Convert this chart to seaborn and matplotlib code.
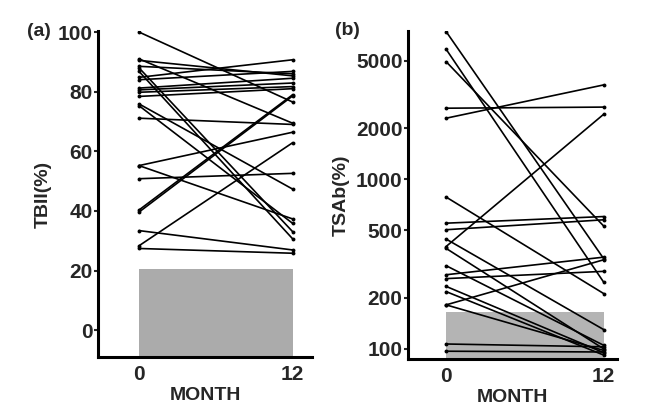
import numpy as np
import pandas as pd
import matplotlib
matplotlib.use("Agg")
import matplotlib.pyplot as plt
import seaborn as sns
from matplotlib.ticker import FixedLocator, NullLocator, ScalarFormatter

# months of follow-up
months = [0, 12]

# TBII (%) per patient, at month 0 and month 12
tbii_start = [100, 91, 90.5, 88.5, 88, 86.8, 84.8, 84, 81.2, 80.6, 79.8, 78.4,
              75.9, 75.3, 71.1, 55.2, 55.2, 50.8, 40.3, 39.6, 33.4, 28.3, 27.4]
tbii_end = [76.5, 69.4, 85.3, 86, 33, 30.6, 90.7, 86.8, 84.5, 82.9, 81.7, 81,
            47.3, 35.8, 69, 66.4, 37.3, 52.6, 79, 78.6, 26.9, 62.9, 25.8]

# TSAb (%) per patient, at month 0 and month 12
tsab_start = [7450, 5860, 4950, 2630, 2296, 787, 552, 505, 445, 402, 392, 310,
              274, 260, 234, 218, 182, 182, 107, 97]
tsab_end = [340, 247, 530, 2670, 3610, 212, 604, 578, 130, 2426, 100, 105,
            348, 287, 95, 92, 336, 98, 103, 96]

# upper limit of the normal range
tbii_normal = 20.5
tsab_normal = 165

tsab_ticks = [100, 200, 500, 1000, 2000, 5000]


def to_long(start, end):
    rows = []
    for i, (a, b) in enumerate(zip(start, end)):
        rows.append({"subject": i, "month": months[0], "value": a})
        rows.append({"subject": i, "month": months[1], "value": b})
    return pd.DataFrame(rows)


sns.set_style("white")
plt.rcParams["font.family"] = ["Liberation Sans", "DejaVu Sans"]
plt.rcParams["font.weight"] = "bold"

fig = plt.figure(figsize=(6.51, 4.13), dpi=100)
ax1 = fig.add_axes([0.1505, 0.1356, 0.3287, 0.789])
ax2 = fig.add_axes([0.6267, 0.1308, 0.321, 0.795])

line_kw = dict(x="month", y="value", units="subject", estimator=None,
               color="black", linewidth=1.2, marker="o", markersize=2.8,
               markeredgewidth=0, legend=False)

# (a) TBII
ylow_a = -9
ax1.fill_between(months, ylow_a, tbii_normal, color="#ababab", zorder=0, linewidth=0)
sns.lineplot(data=to_long(tbii_start, tbii_end), ax=ax1, **line_kw)
ax1.set_xlim(-3.2, 13.5)
ax1.set_ylim(ylow_a, 100.3)
ax1.set_yticks([0, 20, 40, 60, 80, 100])
ax1.set_xticks(months)
ax1.set_ylabel("TBII(%)", fontsize=14, fontweight="bold", labelpad=4)
ax1.text(-0.33, 1.0, "(a)", transform=ax1.transAxes, fontsize=14,
         fontweight="bold", ha="left", va="center")

# (b) TSAb, log scale
ylow_b = 87.3
ax2.fill_between(months, ylow_b, tsab_normal, color="#b4b4b4", zorder=0, linewidth=0)
sns.lineplot(data=to_long(tsab_start, tsab_end), ax=ax2, **line_kw)
ax2.set_yscale("log")
ax2.set_xlim(-2.9, 13.0)
ax2.set_ylim(ylow_b, 7540)
ax2.yaxis.set_major_locator(FixedLocator(tsab_ticks))
ax2.yaxis.set_major_formatter(ScalarFormatter())
ax2.yaxis.set_minor_locator(NullLocator())
ax2.set_xticks(months)
ax2.set_ylabel("TSAb(%)", fontsize=14, fontweight="bold", labelpad=4)
ax2.text(-0.35, 1.0, "(b)", transform=ax2.transAxes, fontsize=14,
         fontweight="bold", ha="left", va="center")

for ax in (ax1, ax2):
    sns.despine(ax=ax)
    for s in ("left", "bottom"):
        ax.spines[s].set_linewidth(2.2)
        ax.spines[s].set_color("black")
    ax.set_xlabel("MONTH", fontsize=14, fontweight="bold", labelpad=2)
    ax.tick_params(axis="y", which="major", direction="out", length=3, width=1.5,
                   labelsize=15, left=True, pad=1)
    ax.tick_params(axis="x", length=0, labelsize=15, pad=6)
    for lab in ax.get_xticklabels() + ax.get_yticklabels():
        lab.set_fontweight("bold")

fig.savefig("out.png", dpi=100)
